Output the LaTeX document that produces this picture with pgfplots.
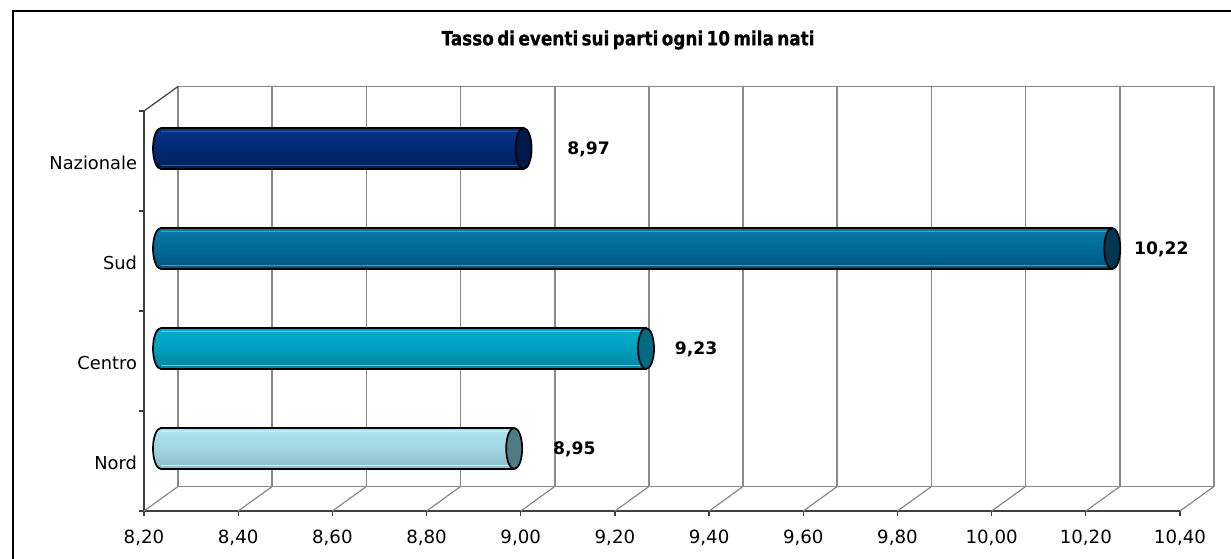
\documentclass[border=0pt]{standalone}
\usepackage{fontspec}
\setmainfont{DejaVu Sans}
\newfontfamily\titlefont{DejaVu Sans}[BoldFeatures={FakeBold=0.6}]
\usepackage{graphicx}
\usepackage{pgfplots}
\pgfplotsset{compat=1.18}

% cylinder colours: top / middle / bottom of the body, end cap, highlight
\definecolor{naztop}{HTML}{0A3482}
\definecolor{nazmid}{HTML}{002A74}
\definecolor{nazbot}{HTML}{001E56}
\definecolor{nazcap}{HTML}{00194A}
\definecolor{nazhl}{HTML}{2A56A0}
\definecolor{sudtop}{HTML}{0A7AAA}
\definecolor{sudmid}{HTML}{006A98}
\definecolor{sudbot}{HTML}{00557C}
\definecolor{sudcap}{HTML}{003752}
\definecolor{sudhl}{HTML}{4A9CC4}
\definecolor{centop}{HTML}{06ADCC}
\definecolor{cenmid}{HTML}{00A0C0}
\definecolor{cenbot}{HTML}{00849C}
\definecolor{cencap}{HTML}{006B80}
\definecolor{cenhl}{HTML}{5CCCE0}
\definecolor{nortop}{HTML}{AEE4F0}
\definecolor{normid}{HTML}{A0D6E2}
\definecolor{norbot}{HTML}{8CBCC8}
\definecolor{norcap}{HTML}{4F7B84}
\definecolor{norhl}{HTML}{C8F0F8}
\definecolor{wallgray}{HTML}{8A8A8A}
\definecolor{axisdark}{HTML}{404040}

% #1 category centre, #2 top edge, #3 bottom edge, #4 value, #5 colour set, #6 label gap
\newcommand\cylbar[6]{%
  \addplot[draw=black, line width=0.85pt, top color=#5top, bottom color=#5bot, middle color=#5mid,
           xshift=8.5pt, yshift=6.25pt]
    coordinates {(8.2,#2) (#4,#2) (#4,#3) (8.2,#3)}
    arc[start angle=270, end angle=90, x radius=4pt, y radius=10.25pt] -- cycle;
  \addplot[#5hl, line width=0.5pt, xshift=8.5pt, yshift=14.75pt] coordinates {(8.2,#1) (#4,#1)};
  \addplot[#5hl, line width=0.5pt, xshift=8.5pt, yshift=-2.25pt] coordinates {(8.2,#1) (#4,#1)};
  \addplot[only marks, mark=*, mark size=10.25pt,
           mark options={xscale=0.39, fill=#5cap, draw=black, line width=0.85pt},
           xshift=8.5pt, yshift=6.25pt, point meta=x,
           nodes near coords={\pgfmathprintnumber[fixed,fixed zerofill,precision=2,use comma,assume math mode=true]{\pgfplotspointmeta}},
           nodes near coords style={anchor=west, inner sep=0pt, xshift=#6, yshift=-0.5pt,
                                    font=\bfseries\fontsize{8.6}{10}\selectfont, text=black}]
    coordinates {(#4,#1)};
}

\begin{document}
\begin{tikzpicture}[x=1pt,y=1pt]
\path[use as bounding box] (0,0) rectangle (615.5,279);
\fill[white] (0,0) rectangle (615.5,279);
\draw[line width=1pt] (6.5,-2) -- (6.5,273.5) -- (618,273.5);
\node[font=\titlefont\bfseries\fontsize{9.8}{11}\selectfont] at (314,259)
  {\resizebox{186.5pt}{\height}{\spaceskip=0.2em Tasso di eventi sui parti ogni 10 mila nati}};

\begin{axis}[
  at={(72pt,23.5pt)}, anchor=south west,
  scale only axis, width=518pt, height=200pt,
  xmin=8.2, xmax=10.4, ymin=0, ymax=4,
  clip=false,
  axis x line*=bottom, axis y line*=left,
  axis line style={draw=axisdark, line width=0.8pt},
  xtick={8.2,8.4,8.6,8.8,9.0,9.2,9.4,9.6,9.8,10.0,10.2,10.4},
  xticklabel style={yshift=-3.5pt, /pgf/number format/.cd, fixed, fixed zerofill, precision=2, use comma, assume math mode=true},
  ticklabel style={font=\fontsize{9.1}{10}\selectfont, text=black},
  tick align=outside,
  major tick length=2.5pt,
  tick style={draw=axisdark, line width=0.6pt},
  ytick={0,1,2,3,4}, yticklabels={},
  extra y ticks={0.5,1.5,2.5,3.5},
  extra y tick labels={Nord,Centro,Sud,Nazionale},
  extra y tick style={major tick length=0pt, tick style={draw=none},
                      yticklabel style={font=\fontsize{8.9}{10}\selectfont, yshift=-1pt}},
]
% back wall, floor and side edges
\pgfplotsinvokeforeach{8.2,8.4,8.6,8.8,9.0,9.2,9.4,9.6,9.8,10.0,10.2,10.4}{
  \draw[wallgray, line width=0.8pt] ([shift={(17pt,12.25pt)}]axis cs:#1,0) -- ([shift={(17pt,12.25pt)}]axis cs:#1,4);
  \draw[wallgray, line width=0.6pt] (axis cs:#1,0) -- ([shift={(17pt,12.25pt)}]axis cs:#1,0);
}
\draw[wallgray, line width=0.8pt] ([shift={(17pt,12.25pt)}]axis cs:8.2,4) -- ([shift={(17pt,12.25pt)}]axis cs:10.4,4);
\draw[wallgray, line width=0.8pt] ([shift={(17pt,12.25pt)}]axis cs:8.2,0) -- ([shift={(17pt,12.25pt)}]axis cs:10.4,0);
\draw[axisdark, line width=0.6pt] (axis cs:8.2,4) -- ([shift={(17pt,12.25pt)}]axis cs:8.2,4);

% bars
\cylbar{3.5}{3.705}{3.295}{8.97}{naz}{21.5pt}
\cylbar{2.5}{2.705}{2.295}{10.22}{sud}{10.5pt}
\cylbar{1.5}{1.705}{1.295}{9.23}{cen}{14pt}
\cylbar{0.5}{0.705}{0.295}{8.95}{nor}{19pt}
\end{axis}
\end{tikzpicture}
\end{document}
